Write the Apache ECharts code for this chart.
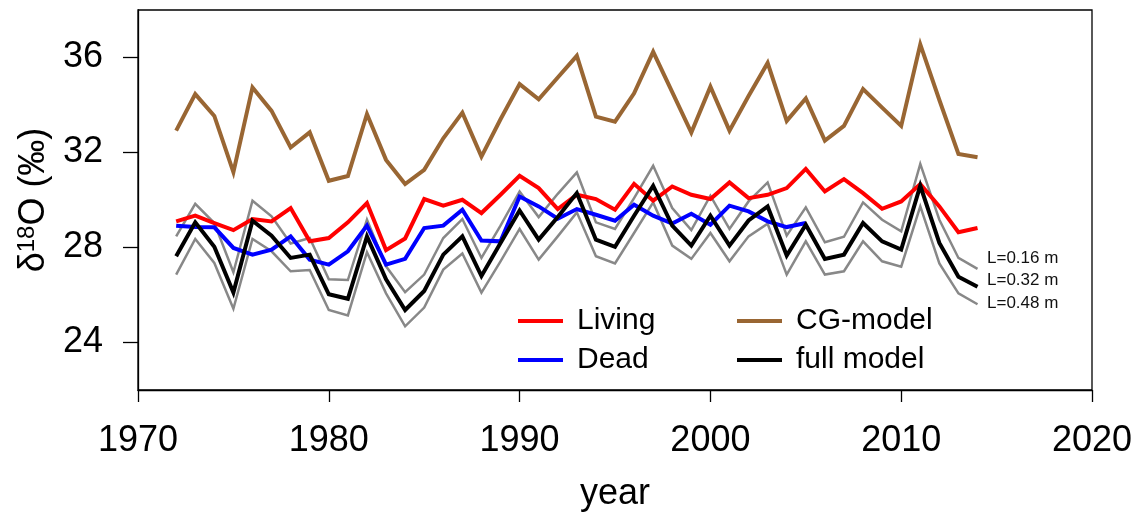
<!DOCTYPE html>
<html>
<head>
<meta charset="utf-8">
<script src="https://cdn.jsdelivr.net/npm/echarts@6/dist/echarts.min.js"></script>
<style>
html,body{margin:0;padding:0;background:#fff;}
#c{width:1146px;height:519px;}
</style>
</head>
<body>
<div id="c"></div>
<script>
var years = [];
for (var y = 1972; y <= 2014; y++) years.push(y);

var cgModel = [32.92,34.46,33.54,31.17,34.74,33.75,32.21,32.85,30.81,31.01,33.62,31.69,30.67,31.27,32.60,
  33.68,31.83,33.40,34.88,34.24,35.16,36.07,33.51,33.30,34.49,36.24,34.54,32.84,34.77,32.92,34.38,35.77,
  33.33,34.28,32.50,33.12,34.67,33.89,33.12,36.55,34.21,31.94,31.80];
var living = [29.10,29.34,29.03,28.73,29.20,29.10,29.66,28.26,28.40,29.06,29.87,27.89,28.38,30.04,29.76,
  30.01,29.45,30.22,31.02,30.50,29.62,30.22,30.04,29.59,30.68,29.97,30.57,30.22,30.04,30.74,30.08,30.22,
  30.50,31.31,30.36,30.88,30.29,29.63,29.94,30.67,29.73,28.64,28.82];
var dead = [28.92,28.86,28.85,27.98,27.70,27.91,28.47,27.49,27.28,27.84,28.92,27.28,27.52,28.82,28.92,
  29.59,28.29,28.26,30.15,29.73,29.21,29.62,29.38,29.13,29.80,29.34,29.01,29.42,28.96,29.76,29.52,29.10,
  28.86,29.03,null,null,null,null,null,null,null,null,null];
var fullModel = [27.63,29.06,28.03,26.10,29.13,28.50,27.56,27.70,26.03,25.84,28.47,26.66,25.37,26.17,27.70,
  28.47,26.80,28.19,29.56,28.33,29.28,30.29,28.33,28.03,29.34,30.60,28.92,28.08,29.34,28.08,29.14,29.73,
  27.66,28.96,27.52,27.70,29.03,28.26,27.91,30.60,28.19,26.77,26.35];
var modelL016 = [28.47,29.84,29.03,26.96,29.97,29.31,28.17,28.40,26.66,26.63,29.17,27.21,26.12,26.86,28.40,
  29.20,27.56,28.92,30.36,29.28,30.26,31.16,29.06,28.78,30.08,31.44,29.66,28.73,30.18,28.78,29.94,30.74,
  28.50,29.69,28.22,28.45,29.90,29.17,28.68,31.52,29.17,27.56,27.10];
var modelL048 = [26.86,28.36,27.35,25.42,28.36,27.84,27.00,27.05,25.37,25.14,27.80,26.07,24.68,25.47,27.07,
  27.75,26.10,27.42,28.78,27.49,28.47,29.48,27.63,27.33,28.61,29.90,28.08,27.52,28.61,27.42,28.47,29.00,
  26.86,28.26,26.86,27.00,28.26,27.42,27.19,29.73,27.33,26.07,25.61];

var xTicks = [1970, 1980, 1990, 2000, 2010, 2020];
var yTicks = [24, 28, 32, 36];
var lLabels = ['L=0.16 m', 'L=0.32 m', 'L=0.48 m'];

function pairs(arr) {
  return years.map(function (yr, i) { return [yr, arr[i]]; });
}

var FONT = '"Liberation Sans", Arial, Helvetica, sans-serif';
var chart = echarts.init(document.getElementById('c'), null, {renderer: 'canvas'});

function line(name, data, color, width) {
  return {
    name: name, type: 'line', data: pairs(data), showSymbol: false, symbol: 'none',
    connectNulls: false, animation: false,
    lineStyle: {color: color, width: width, join: 'miter'},
    itemStyle: {color: color}
  };
}

chart.setOption({
  backgroundColor: '#fff',
  animation: false,
  grid: {left: 138, right: 54, top: 10, bottom: 129, show: true, borderColor: '#000', borderWidth: 1.3, backgroundColor: 'transparent'},
  xAxis: {
    type: 'value', min: 1970, max: 2020, interval: 10,
    splitLine: {show: false},
    axisLine: {show: true, onZero: false, lineStyle: {color: '#000', width: 1.3}},
    axisTick: {show: true, length: 12, lineStyle: {color: '#000', width: 1.3}},
    axisLabel: {fontSize: 36, color: '#000', fontFamily: FONT, margin: 33,
      customValues: xTicks, formatter: function (v) { return String(v); }},
    name: 'year', nameLocation: 'middle', nameGap: 86,
    nameTextStyle: {fontSize: 36, color: '#000', fontFamily: FONT}
  },
  yAxis: {
    type: 'value', min: 22, max: 38,
    splitLine: {show: false},
    axisLine: {show: true, lineStyle: {color: '#000', width: 1.3}},
    axisTick: {show: true, length: 15, customValues: yTicks, lineStyle: {color: '#000', width: 1.3}},
    axisLabel: {fontSize: 36, color: '#000', fontFamily: FONT, margin: 35, customValues: yTicks},
    name: '{a|δ}{s|18}{a|O (‰)}', nameLocation: 'middle', nameGap: 85, nameRotate: 90,
    nameTextStyle: {
      fontSize: 36, color: '#000', fontFamily: FONT,
      rich: {
        a: {fontSize: 36, color: '#000', fontFamily: FONT},
        s: {fontSize: 24, color: '#000', fontFamily: FONT, padding: [0, 0, 14, 0]}
      }
    }
  },
  legend: [
    {
      data: ['Living', 'Dead'], orient: 'vertical', left: 518, top: 306, padding: 0,
      icon: 'rect', itemWidth: 45, itemHeight: 4, itemGap: 9,
      textStyle: {fontSize: 30, color: '#000', fontFamily: FONT, padding: [0, 0, 0, 9], lineHeight: 30},
      selectedMode: false
    },
    {
      data: ['CG-model', 'full model'], orient: 'vertical', left: 737, top: 306, padding: 0,
      icon: 'rect', itemWidth: 45, itemHeight: 4, itemGap: 9,
      textStyle: {fontSize: 30, color: '#000', fontFamily: FONT, padding: [0, 0, 0, 9], lineHeight: 30},
      selectedMode: false
    }
  ],
  graphic: lLabels.map(function (t, i) {
    return {
      type: 'text', left: 987, top: [258, 280, 303][i] - 8,
      style: {text: t, fontSize: 17, fill: '#111', fontFamily: FONT}
    };
  }),
  series: [
    line('L=0.16', modelL016, '#888888', 2.5),
    line('L=0.48', modelL048, '#888888', 2.5),
    line('CG-model', cgModel, '#996633', 4),
    line('Living', living, '#ff0000', 4),
    line('Dead', dead, '#0000ff', 4),
    line('full model', fullModel, '#000000', 4)
  ]
});
</script>
</body>
</html>
